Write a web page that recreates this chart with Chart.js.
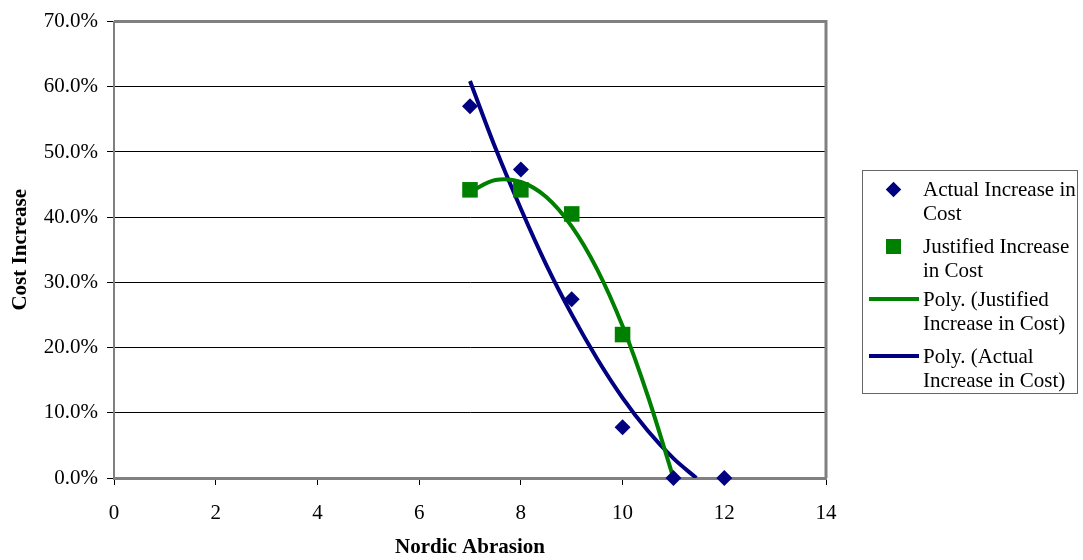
<!DOCTYPE html>
<html>
<head>
<meta charset="utf-8">
<script src="https://cdn.jsdelivr.net/npm/chart.js@4"></script>
<style>
  html, body { margin: 0; padding: 0; background: #fff; }
  #wrap { position: relative; width: 1083px; height: 560px; }
  #legend {
    position: absolute; left: 862px; top: 170px; width: 216px; height: 224px;
    border: 1px solid #666; box-sizing: border-box;
    font-family: "Liberation Serif", "Times New Roman", serif; font-size: 21px; color: #000;
  }
  .item { position: absolute; left: 0; width: 100%; line-height: 24px; }
  .item .txt { position: absolute; left: 60px; top: 0; white-space: nowrap; }
  .item .mk { position: absolute; }
  .diamond { left: 25px; top: 7px; width: 11px; height: 11px; background: #000080; transform: rotate(45deg); }
  .square { left: 23px; top: 5px; width: 15px; height: 15px; background: #008000; }
  .ln { left: 6px; top: 10px; width: 50px; height: 4px; }
</style>
</head>
<body>
<div id="wrap">
  <canvas id="chart" width="1083" height="560"></canvas>
  <div id="legend"></div>
</div>
<script>
// measured samples
const actualX = [7, 8, 9, 10, 11, 12];
const actualY = [0.570, 0.473, 0.274, 0.078, 0, 0];
const justifiedX = [7, 8, 9, 10];
const justifiedY = [0.442, 0.442, 0.405, 0.220];

// polynomial trend curves, sampled along the x range
const actualTrendX = [7, 7.5, 8, 8.5, 9, 9.5, 10, 10.5, 11, 11.45];
const actualTrendY = [0.609, 0.506, 0.413, 0.327, 0.251, 0.183, 0.123, 0.072, 0.030, 0];
const justifiedTrendX = [7, 7.5, 8, 8.5, 9, 9.5, 10, 10.5, 11];
const justifiedTrendY = [0.439, 0.457, 0.454, 0.431, 0.386, 0.320, 0.233, 0.125, 0];

const xTicks = [0, 2, 4, 6, 8, 10, 12, 14];
const yTicks = [0, 0.1, 0.2, 0.3, 0.4, 0.5, 0.6, 0.7];

const legendItems = [
  { kind: "diamond", color: "#000080", lines: ["Actual Increase in", "Cost"] },
  { kind: "square", color: "#008000", lines: ["Justified Increase", "in Cost"] },
  { kind: "line", color: "#008000", lines: ["Poly. (Justified", "Increase in Cost)"] },
  { kind: "line", color: "#000080", lines: ["Poly. (Actual", "Increase in Cost)"] },
];

const NAVY = "#000080";
const GREEN = "#008000";
const FONT = "'Liberation Serif', 'Times New Roman', serif";

function pts(xs, ys) {
  return xs.map((x, i) => ({ x: x, y: ys[i] }));
}

// top and right edges of the plot frame
const framePlugin = {
  id: "frame",
  beforeDatasetsDraw(chart) {
    const a = chart.chartArea;
    const ctx = chart.ctx;
    ctx.save();
    ctx.strokeStyle = "#808080";
    ctx.lineWidth = 3;
    ctx.beginPath();
    ctx.moveTo(a.left, a.top);
    ctx.lineTo(a.right, a.top);
    ctx.lineTo(a.right, a.bottom);
    ctx.stroke();
    ctx.restore();
  },
};

const ctx = document.getElementById("chart").getContext("2d");
new Chart(ctx, {
  type: "scatter",
  data: {
    datasets: [
      {
        label: "Actual Increase in Cost",
        data: pts(actualX, actualY),
        order: 1,
        pointStyle: "rectRot",
        pointRadius: 8,
        backgroundColor: NAVY,
        borderColor: NAVY,
        borderWidth: 0,
        clip: false,
      },
      {
        label: "Justified Increase in Cost",
        data: pts(justifiedX, justifiedY),
        order: 2,
        pointStyle: "rect",
        pointRadius: 11,
        backgroundColor: GREEN,
        borderColor: GREEN,
        borderWidth: 0,
        clip: false,
      },
      {
        label: "Poly. (Justified Increase in Cost)",
        data: pts(justifiedTrendX, justifiedTrendY),
        order: 3,
        showLine: true,
        tension: 0.33,
        borderColor: GREEN,
        borderWidth: 4,
        pointRadius: 0,
      },
      {
        label: "Poly. (Actual Increase in Cost)",
        data: pts(actualTrendX, actualTrendY),
        order: 4,
        showLine: true,
        tension: 0.33,
        borderColor: NAVY,
        borderWidth: 4,
        pointRadius: 0,
      },
    ],
  },
  options: {
    responsive: false,
    animation: false,
    layout: { padding: { left: 0, top: 17, right: 257, bottom: 0 } },
    plugins: { legend: { display: false }, tooltip: { enabled: false } },
    scales: {
      x: {
        type: "linear",
        min: 0,
        max: 14,
        afterFit(scale) { scale.height = 82; },
        afterBuildTicks(scale) { scale.ticks = xTicks.map((v) => ({ value: v })); },
        grid: { drawOnChartArea: false, drawTicks: true, tickLength: 7, tickColor: "#000", tickWidth: 1 },
        border: { color: "#808080", width: 3 },
        ticks: { color: "#000", font: { family: FONT, size: 21 }, padding: 16, maxRotation: 0 },
        title: {
          display: true,
          text: "Nordic Abrasion",
          color: "#000",
          font: { family: FONT, size: 21, weight: "bold" },
          padding: { top: 0, bottom: 0 },
        },
      },
      y: {
        min: 0,
        max: 0.7,
        afterFit(scale) { scale.width = 114; },
        afterBuildTicks(scale) { scale.ticks = yTicks.map((v) => ({ value: v })); },
        grid: { color: "#000", lineWidth: 1, tickLength: 7, tickColor: "#000" },
        border: { color: "#808080", width: 2 },
        ticks: {
          color: "#000",
          font: { family: FONT, size: 21 },
          padding: 9,
          callback: (v) => (v * 100).toFixed(1) + "%",
        },
        title: {
          display: true,
          text: "Cost Increase",
          color: "#000",
          font: { family: FONT, size: 21, weight: "bold" },
          padding: { top: 8, bottom: 0 },
        },
      },
    },
  },
  plugins: [framePlugin],
});

// legend box on the right
const legendEl = document.getElementById("legend");
const rowTops = [6, 63, 116, 173];
legendItems.forEach((it, i) => {
  const row = document.createElement("div");
  row.className = "item";
  row.style.top = rowTops[i] + "px";
  const mk = document.createElement("div");
  if (it.kind === "line") {
    mk.className = "mk ln";
  } else {
    mk.className = "mk " + it.kind;
  }
  mk.style.background = it.color;
  row.appendChild(mk);
  const txt = document.createElement("div");
  txt.className = "txt";
  txt.innerHTML = it.lines.join("<br>");
  row.appendChild(txt);
  legendEl.appendChild(row);
});
</script>
</body>
</html>
